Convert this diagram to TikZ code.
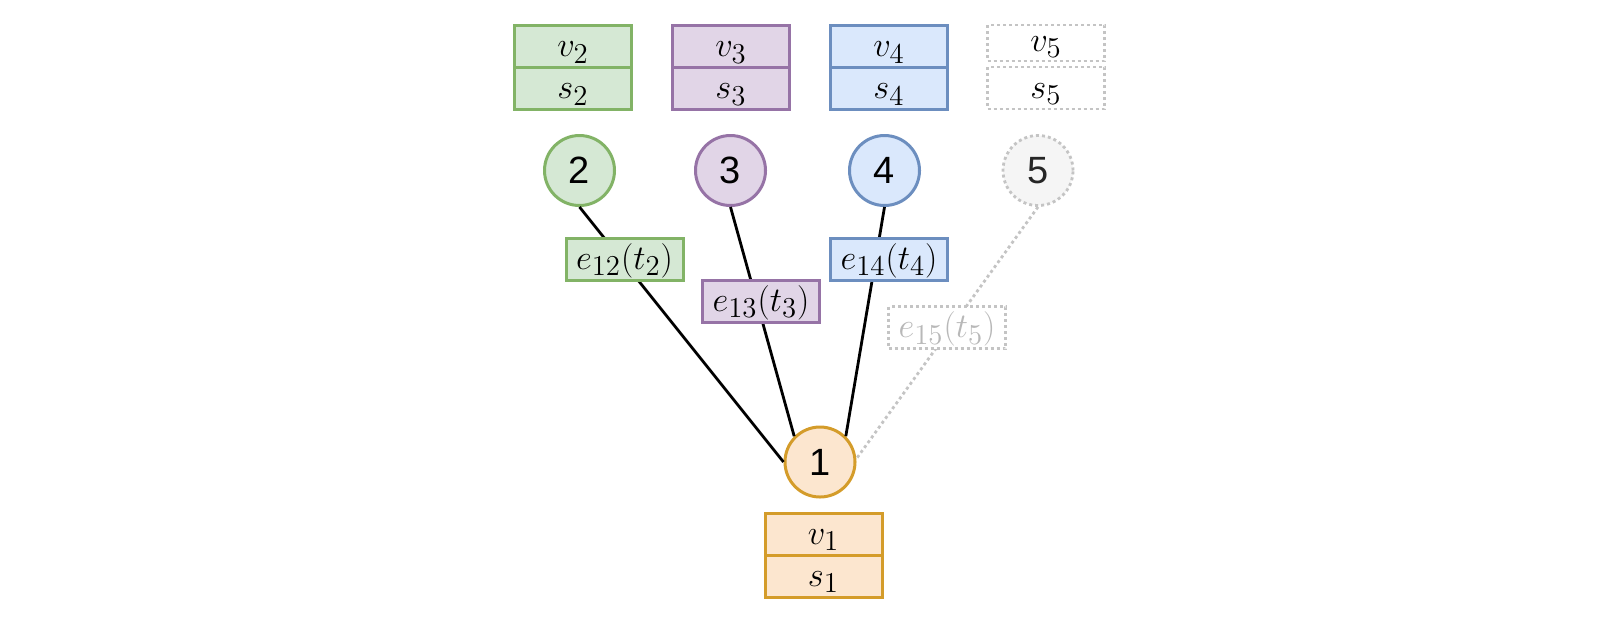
\documentclass[tikz,border=0pt]{standalone}
\usepackage{fontspec}
\setsansfont{Liberation Sans}
\DeclareMathSizes{19}{19}{13.5}{10}
\definecolor{gF}{HTML}{D5E8D4}\definecolor{gS}{HTML}{82B366}
\definecolor{pF}{HTML}{E1D5E7}\definecolor{pS}{HTML}{9673A6}
\definecolor{bF}{HTML}{DAE8FC}\definecolor{bS}{HTML}{6C8EBF}
\definecolor{oF}{HTML}{FCE6CF}\definecolor{oS}{HTML}{D49C2A}
\definecolor{xF}{HTML}{F5F5F5}\definecolor{xS}{HTML}{C4C4C4}\definecolor{xT}{HTML}{B8B8B8}
\begin{document}
\begin{tikzpicture}[x=0.5pt,y=-0.5pt,
  cell/.style={draw, line width=1.5pt, minimum width=58.5pt, minimum height=21pt, inner sep=0pt, text height=10pt, text depth=0pt, font=\fontsize{19}{22}\selectfont},
  vert/.style={circle, draw, line width=1.5pt, minimum size=35pt, inner sep=0pt, font=\sffamily\fontsize{19}{22}\selectfont},
  edge/.style={line width=1.4pt, black},
  ghost/.style={draw=xS, dash pattern=on 1.5pt off 1.5pt, line width=1.4pt},
  green/.style={fill=gF, draw=gS},
  purple/.style={fill=pF, draw=pS},
  blue/.style={fill=bF, draw=bS},
  orange/.style={fill=oF, draw=oS}]
\useasboundingbox (0,0) rectangle (1600,629);
% top state boxes
\node[cell,green] (v2) at (573,46.5) {$v_2$};
\node[cell,green] (s2) at (573,88.5) {$s_2$};
\node[cell,purple] (v3) at (731,46.5) {$v_3$};
\node[cell,purple] (s3) at (731,88.5) {$s_3$};
\node[cell,blue] (v4) at (889,46.5) {$v_4$};
\node[cell,blue] (s4) at (889,88.5) {$s_4$};
\node[cell,ghost,minimum height=18pt,text height=8pt] (v5) at (1046,43) {$v_5$};
\node[cell,ghost] (s5) at (1046,88) {$s_5$};
% vertices
\node[vert,green] (n2) at (579.5,170.5) {2};
\node[vert,purple] (n3) at (730.5,170.5) {3};
\node[vert,blue] (n4) at (884.5,170.5) {4};
\node[vert,ghost,fill=xF,text=black!85] (n5) at (1038,170.5) {5};
\node[vert,orange] (n1) at (820,462) {1};
% edges
\draw[edge] (n2.south) -- (n1.west);
\draw[edge] (n3.south) -- (n1.135);
\draw[edge] (n4.south) -- (n1.45);
\draw[ghost] (n5.south) -- (n1.5);
% edge labels
\node[cell,green] (e12) at (624.5,259) {$e_{12}(t_2)$};
\node[cell,purple] (e13) at (761,301) {$e_{13}(t_3)$};
\node[cell,blue] (e14) at (889,259) {$e_{14}(t_4)$};
\node[cell,ghost,fill=white,text=xT] (e15) at (947,327.5) {$e_{15}(t_5)$};
% bottom state box
\node[cell,orange] (v1) at (823.5,534) {$v_1$};
\node[cell,orange] (s1) at (823.5,576) {$s_1$};
\end{tikzpicture}
\end{document}
